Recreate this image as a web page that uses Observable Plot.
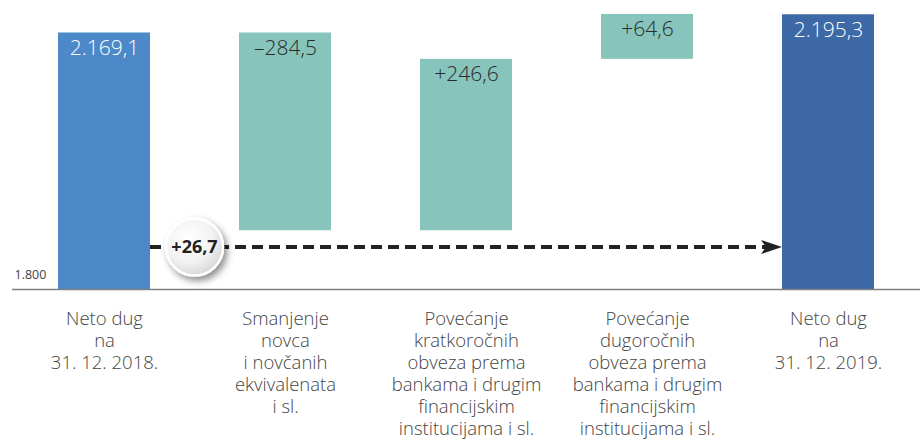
<!DOCTYPE html>
<html><head><meta charset="utf-8">
<script src="https://cdn.jsdelivr.net/npm/d3@7"></script>
<script src="https://cdn.jsdelivr.net/npm/@observablehq/plot@0.6"></script>
<style>
body{margin:0;background:#fff;}
#chart svg{display:block;overflow:visible;}
</style></head><body><div id="chart"></div>
<script>
const categories = [
  "Neto dug\nna\n31. 12. 2018.",
  "Smanjenje\nnovca\ni novčanih\nekvivalenata\ni sl.",
  "Povećanje\nkratkoročnih\nobveza prema\nbankama i drugim\nfinancijskim\ninstitucijama i sl.",
  "Povećanje\ndugoročnih\nobveza prema\nbankama i drugim\nfinancijskim\ninstitucijama i sl.",
  "Neto dug\nna\n31. 12. 2019."
];
const startValue = 2169.1;
const changes = [-284.5, 246.6, 64.6];
const endValue = 2195.3;
const baseValue = 1800;
const totalChange = 26.7;
const yDomain = [1800, 2200];

const loc = d3.formatLocale({decimal: ",", thousands: ".", grouping: [3], currency: ["", ""], minus: "–"});
const fmt1 = loc.format(",.1f");
const fmtS = loc.format("+,.1f");
const fmt0 = loc.format(",.0f");

const rows = [];
rows.push({cat: categories[0], y1: baseValue, y2: startValue, kind: "start", label: fmt1(startValue)});
let running = startValue;
changes.forEach((c, i) => {
  rows.push({cat: categories[i + 1], y1: running, y2: running + c, kind: "change", label: fmtS(c)});
  running += c;
});
rows.push({cat: categories[4], y1: baseValue, y2: endValue, kind: "end", label: fmt1(endValue)});
rows.forEach(r => r.top = Math.max(r.y1, r.y2));

const font = "'Open Sans', 'Noto Sans', sans-serif";
const plot = Plot.plot({
  width: 922, height: 442,
  marginLeft: 12, marginRight: 2, marginTop: 11, marginBottom: 153,
  style: {fontFamily: font, background: "#fff"},
  x: {type: "band", domain: categories, paddingInner: 0.49, paddingOuter: 0.245, axis: null},
  y: {domain: yDomain, axis: null},
  color: {domain: ["start", "change", "end"], range: ["#4d89c8", "#86c4bc", "#3d69a6"]},
  marks: [
    Plot.barY(rows, {x: "cat", y1: "y1", y2: "y2", fill: "kind"}),
    Plot.ruleY([baseValue], {stroke: "#7f7f7f", strokeWidth: 1.5}),
    Plot.text(rows.filter(d => d.kind !== "change"), {x: "cat", y: "top", text: "label", lineAnchor: "top", dy: 7, fontSize: 21, fontWeight: 300, fill: "#ffffff"}),
    Plot.text(rows.filter(d => d.kind === "change"), {x: "cat", y: "top", text: "label", lineAnchor: "top", dy: 7, fontSize: 21, fontWeight: 300, fill: "#2b2b2b"}),
    Plot.text([baseValue], {frameAnchor: "left", y: d => d, text: d => fmt0(d), dx: 2, dy: -11, lineAnchor: "bottom", textAnchor: "start", fontSize: 12.5, fill: "#444"}),
    Plot.text(categories, {x: d => d, y: () => baseValue, text: d => d, lineAnchor: "top", dy: 20, fontSize: 18.5, fontWeight: 300, lineHeight: 1.19, fill: "#444"})
  ]
});
document.getElementById("chart").appendChild(plot);

// dashed arrow and total-change bubble, positioned from rendered bars / y scale
const svg = d3.select(plot);
const sb = plot.getBoundingClientRect();
const rects = Array.from(plot.querySelectorAll("g[aria-label='bar'] rect")).map(r => {
  const b = r.getBoundingClientRect();
  return {x0: b.left - sb.left, x1: b.right - sb.left};
});
const ys = plot.scale("y");
const ay = ys.apply(baseValue) - 42;
const xa = rects[0].x1, xb = rects[rects.length - 1].x0;

const defs = svg.append("defs");
const grad = defs.append("radialGradient").attr("id", "bub").attr("cx", "40%").attr("cy", "35%").attr("r", "70%");
grad.append("stop").attr("offset", "0%").attr("stop-color", "#ffffff");
grad.append("stop").attr("offset", "60%").attr("stop-color", "#f2f2f2");
grad.append("stop").attr("offset", "100%").attr("stop-color", "#d4d4d4");
const filt = defs.append("filter").attr("id", "sh").attr("x", "-50%").attr("y", "-50%").attr("width", "200%").attr("height", "200%");
filt.append("feDropShadow").attr("dx", 3).attr("dy", 4).attr("stdDeviation", 3.5).attr("flood-color", "#000").attr("flood-opacity", 0.45);

const g = svg.append("g");
g.append("line").attr("x1", xa).attr("x2", xb - 16).attr("y1", ay).attr("y2", ay)
  .attr("stroke", "#222").attr("stroke-width", 4).attr("stroke-dasharray", "11 6");
g.append("path").attr("d", `M${xb},${ay} L${xb - 21},${ay - 7} L${xb - 16},${ay} L${xb - 21},${ay + 7} Z`).attr("fill", "#222");
const cx = (rects[0].x1 + rects[1].x0) / 2;
g.append("circle").attr("cx", cx).attr("cy", ay).attr("r", 28.5).attr("fill", "url(#bub)")
  .attr("stroke", "#fff").attr("stroke-width", 2.5).attr("filter", "url(#sh)");
g.append("text").attr("x", cx).attr("y", ay).attr("text-anchor", "middle").attr("dy", "0.36em")
  .attr("font-family", font).attr("font-weight", 700).attr("font-size", 18).attr("fill", "#222")
  .text(fmtS(totalChange));
</script>
</body></html>
